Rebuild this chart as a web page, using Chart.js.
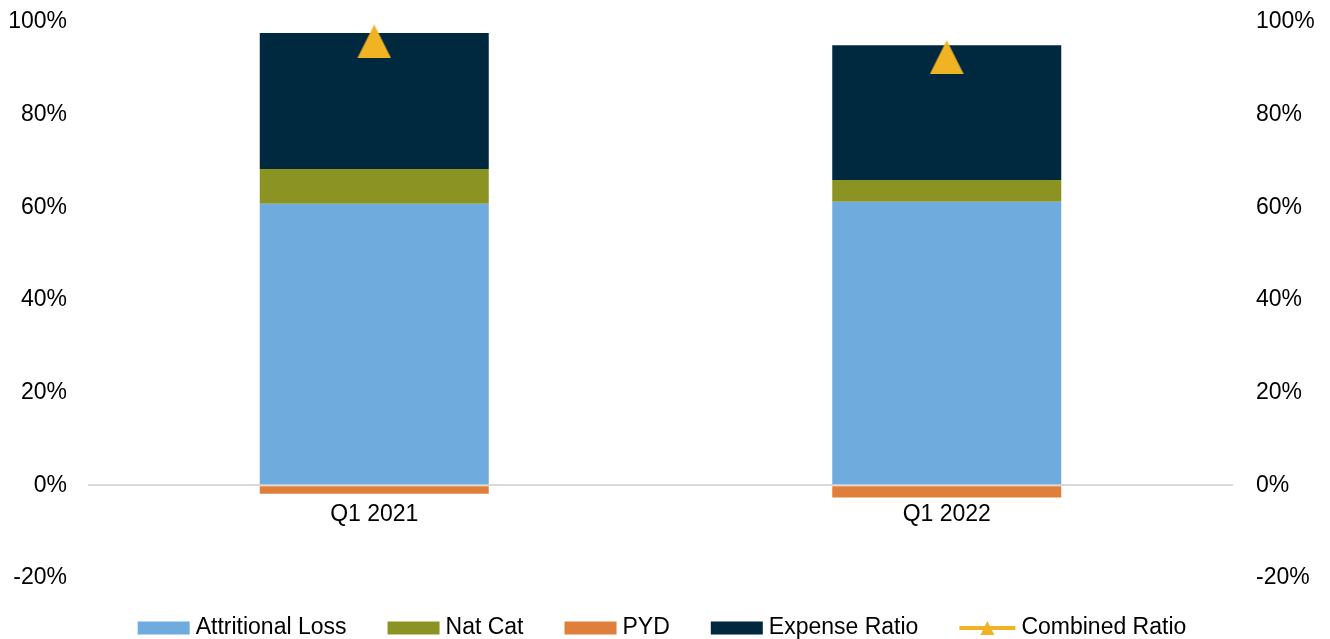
<!DOCTYPE html>
<html>
<head>
<meta charset="utf-8">
<script src="https://cdn.jsdelivr.net/npm/chart.js@4.4.1/dist/chart.umd.min.js"></script>
<style>
  html, body { margin: 0; padding: 0; background: #fff; }
  #wrap { width: 1330px; height: 639px; position: relative; }
</style>
</head>
<body>
<div id="wrap"><canvas id="myChart"></canvas></div>
<script>
const quarters = ['Q1 2021', 'Q1 2022'];
const attritionalLoss = [60.8, 61.2];
const natCat = [7.5, 4.7];
const pyd = [-1.8, -2.6];
const expenseRatio = [29.3, 29.1];
const combinedRatio = [95.8, 92.4];
const yTicks = [-20, 0, 20, 40, 60, 80, 100];

const fontFamily = 'Arial, "Liberation Sans", sans-serif';
const fontSize = 23;

const colors = {
    attritional: '#6FACDD',
    natcat: '#8B9422',
    pyd: '#E07E3C',
    expense: '#00283E',
    combined: '#F0B323'
};

// triangle marker, centred on its value like the original
const makeTriangle = (w, h, color) => {
    const c = document.createElement('canvas');
    c.width = w;
    c.height = h;
    const g = c.getContext('2d');
    g.fillStyle = color;
    g.beginPath();
    g.moveTo(w / 2, 0);
    g.lineTo(w, h);
    g.lineTo(0, h);
    g.closePath();
    g.fill();
    return c;
};

const triangleMarker = makeTriangle(34, 34, colors.combined);

const bottomLegend = {
    id: 'bottomLegend',
    afterDraw(chart) {
        const ctx = chart.ctx;
        const y = 628;
        const boxW = 52, boxH = 13, gap = 6, spacing = 41, lineW = 56;
        ctx.save();
        ctx.font = fontSize + 'px ' + fontFamily;
        ctx.textBaseline = 'middle';
        ctx.textAlign = 'left';

        const items = chart.data.datasets.map(ds => ({
            text: ds.label,
            color: ds.type === 'line' ? colors.combined : ds.backgroundColor,
            isLine: ds.type === 'line'
        }));

        let total = 0;
        items.forEach((it, i) => {
            it.w = (it.isLine ? lineW : boxW) + gap + ctx.measureText(it.text).width;
            total += it.w + (i > 0 ? spacing : 0);
        });

        let x = (chart.width - total) / 2 - 3;
        items.forEach(it => {
            if (it.isLine) {
                ctx.fillStyle = it.color;
                ctx.fillRect(x, y - 2, lineW, 4);
                ctx.beginPath();
                ctx.moveTo(x + lineW / 2, y - 7);
                ctx.lineTo(x + lineW / 2 + 7, y + 7);
                ctx.lineTo(x + lineW / 2 - 7, y + 7);
                ctx.closePath();
                ctx.fill();
                ctx.fillStyle = '#000';
                ctx.fillText(it.text, x + lineW + gap, y);
            } else {
                ctx.fillStyle = it.color;
                ctx.fillRect(x, y - boxH / 2, boxW, boxH);
                ctx.fillStyle = '#000';
                ctx.fillText(it.text, x + boxW + gap, y);
            }
            x += it.w + spacing;
        });
        ctx.restore();
    }
};

const yScale = (position) => ({
    position: position,
    stacked: position === 'left',
    min: yTicks[0],
    max: yTicks[yTicks.length - 1],
    border: { display: false },
    grid: {
        display: position === 'left',
        drawTicks: false,
        lineWidth: 2,
        color: ctx => (ctx.tick && ctx.tick.value === 0) ? '#D9D9D9' : 'rgba(0,0,0,0)'
    },
    ticks: {
        stepSize: yTicks[1] - yTicks[0],
        padding: position === 'left' ? 21 : 23,
        color: '#000',
        font: { family: fontFamily, size: fontSize },
        callback: v => v + '%'
    },
    afterFit: scale => {
        scale.width = position === 'left' ? 80 : 82;
        scale.paddingTop = 0;
        scale.paddingBottom = 0;
    }
});

Chart.defaults.font.family = fontFamily;

const myChart = new Chart('myChart', {
    type: 'bar',
    data: {
        labels: quarters,
        datasets: [
            { label: 'Attritional Loss', data: attritionalLoss, backgroundColor: colors.attritional, order: 1 },
            { label: 'Nat Cat', data: natCat, backgroundColor: colors.natcat, order: 1 },
            { label: 'PYD', data: pyd, backgroundColor: colors.pyd, order: 1 },
            { label: 'Expense Ratio', data: expenseRatio, backgroundColor: colors.expense, order: 1 },
            {
                type: 'line',
                label: 'Combined Ratio',
                data: combinedRatio,
                yAxisID: 'y2',
                showLine: false,
                borderColor: colors.combined,
                backgroundColor: colors.combined,
                pointStyle: triangleMarker,
                pointRadius: 17,
                pointHoverRadius: 17,
                order: 0
            }
        ]
    },
    options: {
        responsive: true,
        maintainAspectRatio: false,
        animation: false,
        layout: { autoPadding: false, padding: { left: 8, right: 15, top: 22, bottom: 61 } },
        datasets: {
            bar: { categoryPercentage: 1.0, barPercentage: 0.4 }
        },
        plugins: {
            legend: { display: false },
            tooltip: { enabled: false }
        },
        scales: {
            x: {
                position: { y: 0 },
                stacked: true,
                border: { display: false },
                grid: { display: false, drawTicks: false },
                ticks: {
                    padding: 16,
                    color: '#000',
                    font: { family: fontFamily, size: fontSize }
                }
            },
            y: yScale('left'),
            y2: yScale('right')
        }
    },
    plugins: [bottomLegend]
});
</script>
</body>
</html>
